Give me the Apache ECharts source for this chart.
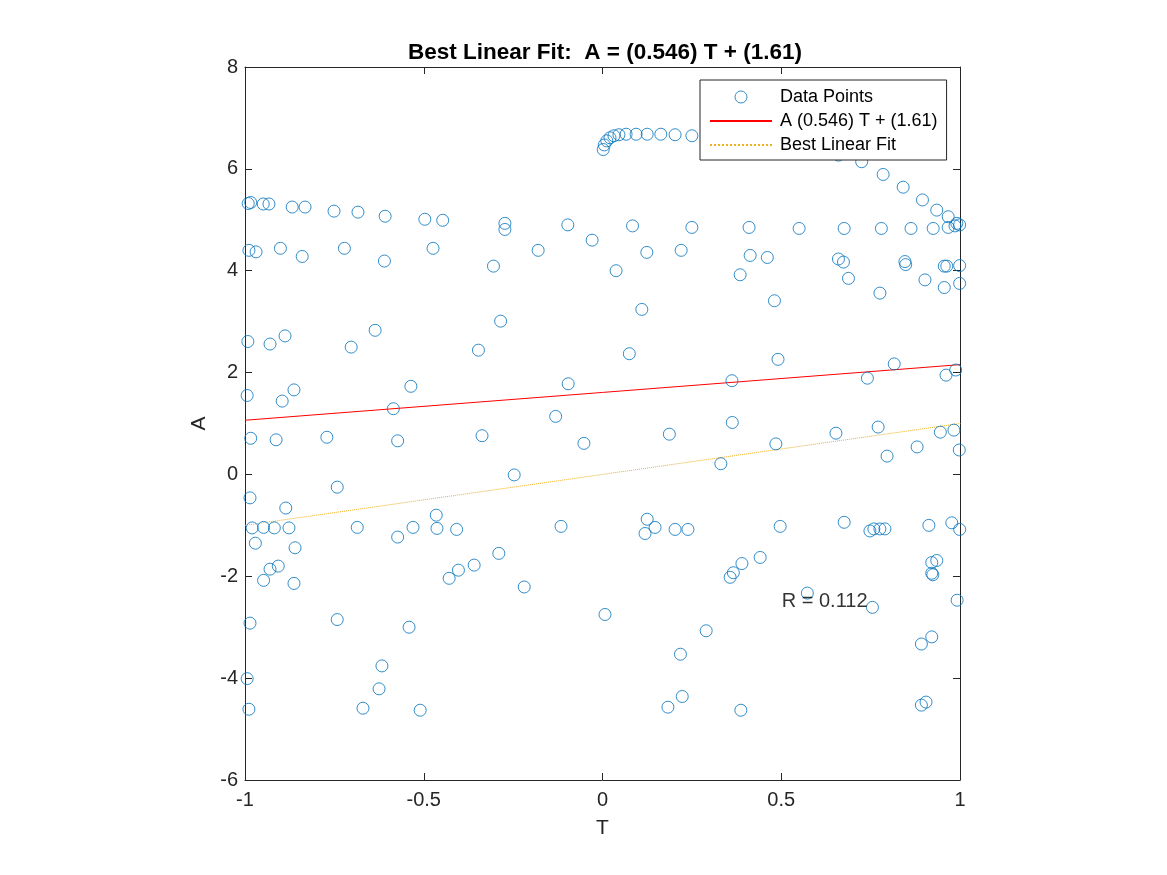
<!DOCTYPE html>
<html>
<head>
<meta charset="utf-8">
<title>Best Linear Fit</title>
<script src="https://cdn.jsdelivr.net/npm/echarts@6/dist/echarts.min.js"></script>
<style>
  html, body { margin: 0; padding: 0; background: #fff; }
  #main { width: 1167px; height: 875px; }
</style>
</head>
<body>
<div id="main"></div>
<script>
// T / A pairs
var pointsT = [
  0.002, 0.005, 0.012, 0.021, 0.032, 0.046, 0.066, 0.094, 0.125, 0.163, 0.203, 0.25,
  0.66, 0.725, 0.785, 0.841, 0.895, 0.935, 0.967, 0.991,
  -0.991, -0.984, -0.949, -0.933, -0.868, -0.832, -0.751, -0.684, -0.608, -0.497, -0.447, -0.273, -0.273, -0.097, -0.029,
  -0.989, -0.969, -0.901, -0.84, -0.722, -0.61, -0.474, -0.305, -0.18,
  0.084, 0.25, 0.41, 0.55, 0.676, 0.78, 0.863, 0.925, 0.967, 0.999, 0.986,
  0.124, 0.22, 0.038, 0.413, 0.461, 0.385, 0.66, 0.674, 0.688, 0.846, 0.848, 0.902, 0.956, 0.963, 0.999, 0.956, 0.999, 0.776, 0.481, 0.11,
  -0.992, -0.93, -0.888, -0.703, -0.636, -0.347, -0.285, -0.994, -0.896, -0.863, -0.536, -0.585, -0.096, -0.131,
  -0.984, -0.913, -0.771, -0.573, -0.337, -0.052, -0.247, -0.986, -0.742, -0.886,
  -0.98, -0.948, -0.918, -0.877, -0.686, -0.53, -0.465, -0.463, -0.408, -0.116, -0.573, -0.971, -0.86,
  0.075, 0.491, 0.816, 0.362, 0.741, 0.961, 0.988, 0.363, 0.187, 0.653, 0.771, 0.945, 0.983, 0.485, 0.88, 0.796, 0.998, 0.331,
  0.125, 0.147, 0.119, 0.203, 0.239, 0.497, 0.676, 0.748, 0.759, 0.776, 0.79, 0.913, 0.977, 0.999,
  -0.948, -0.93, -0.907, -0.863, -0.986, -0.742, -0.541, -0.617, -0.625, -0.994, -0.989, -0.67, -0.51,
  -0.429, -0.403, -0.359, -0.29, -0.219, 0.007,
  0.357, 0.366, 0.39, 0.441, 0.573, 0.755, 0.921, 0.935, 0.921, 0.924, 0.992,
  0.29, 0.218, 0.892, 0.921, 0.183, 0.223, 0.387, 0.892, 0.905
];
var pointsA = [
  6.38, 6.47, 6.55, 6.61, 6.65, 6.67, 6.68, 6.68, 6.68, 6.68, 6.67, 6.65,
  6.27, 6.14, 5.89, 5.64, 5.39, 5.19, 5.06, 4.93,
  5.32, 5.34, 5.31, 5.31, 5.25, 5.25, 5.17, 5.15, 5.07, 5.01, 4.99, 4.93, 4.81, 4.90, 4.60,
  4.40, 4.37, 4.44, 4.28, 4.44, 4.19, 4.44, 4.09, 4.40,
  4.88, 4.85, 4.85, 4.83, 4.83, 4.83, 4.83, 4.83, 4.85, 4.90, 4.88,
  4.36, 4.40, 4.00, 4.30, 4.26, 3.92, 4.23, 4.17, 3.85, 4.18, 4.12, 3.82, 4.09, 4.09, 4.10, 3.67, 3.75, 3.56, 3.41, 3.24,
  2.61, 2.56, 2.72, 2.50, 2.83, 2.44, 3.01, 1.55, 1.44, 1.66, 1.73, 1.29, 1.78, 1.14,
  0.71, 0.68, 0.73, 0.66, 0.76, 0.61, -0.01, -0.46, -0.25, -0.66,
  -1.05, -1.04, -1.05, -1.05, -1.04, -1.04, -0.80, -1.06, -1.08, -1.02, -1.23, -1.35, -1.44,
  2.37, 2.26, 2.17, 1.84, 1.89, 1.95, 2.05, 1.02, 0.79, 0.81, 0.93, 0.83, 0.87, 0.60, 0.54, 0.36, 0.48, 0.21,
  -0.88, -1.04, -1.16, -1.08, -1.08, -1.02, -0.94, -1.11, -1.07, -1.07, -1.07, -1.00, -0.95, -1.08,
  -2.08, -1.86, -1.80, -2.14, -2.92, -2.85, -3.00, -3.76, -4.21, -4.01, -4.61, -4.59, -4.63,
  -2.04, -1.88, -1.78, -1.55, -2.21, -2.75,
  -2.02, -1.93, -1.75, -1.63, -2.33, -2.61, -1.73, -1.69, -1.94, -1.97, -2.47,
  -3.07, -3.53, -3.33, -3.19, -4.57, -4.36, -4.63, -4.53, -4.47
];

// fitted line A = (0.546) T + (1.61), and the dotted A = T line
var fitSlope = 0.546;
var fitIntercept = 1.61;
var lineT = [-1, 1];
var idealA = [-1, 1];

var xTicks = [-1, -0.5, 0, 0.5, 1];
var yTicks = [-6, -4, -2, 0, 2, 4, 6, 8];

var axisColor = '#262626';
var font = '"Liberation Sans", Arial, Helvetica, sans-serif';

var scatterData = pointsT.map(function (t, i) { return [t, pointsA[i]]; });
var fitData = lineT.map(function (t) { return [t, fitSlope * t + fitIntercept]; });
var idealData = lineT.map(function (t, i) { return [t, idealA[i]]; });

var myChart = echarts.init(document.getElementById('main'));

function xAxisDef(pos, showLabel) {
    return {
        type: 'value', position: pos,
        min: xTicks[0], max: xTicks[xTicks.length - 1], interval: 0.5,
        axisLine: { show: true, onZero: false, lineStyle: { color: axisColor, width: 1 } },
        axisTick: { show: true, inside: true, length: 7, lineStyle: { color: axisColor } },
        axisLabel: { show: showLabel, fontSize: 20, color: axisColor, margin: 10, fontFamily: font },
        splitLine: { show: false },
        name: showLabel ? 'T' : '', nameLocation: 'middle', nameGap: 38,
        nameTextStyle: { fontSize: 21, color: axisColor, fontFamily: font }
    };
}
function yAxisDef(pos, showLabel) {
    return {
        type: 'value', position: pos,
        min: yTicks[0], max: yTicks[yTicks.length - 1], interval: 2,
        axisLine: { show: true, onZero: false, lineStyle: { color: axisColor, width: 1 } },
        axisTick: { show: true, inside: true, length: 7, lineStyle: { color: axisColor } },
        axisLabel: { show: showLabel, fontSize: 20, color: axisColor, margin: 7, fontFamily: font },
        splitLine: { show: false },
        name: showLabel ? 'A' : '', nameLocation: 'middle', nameGap: 35,
        nameTextStyle: { fontSize: 21, color: axisColor, fontFamily: font }
    };
}

var option = {
    backgroundColor: '#fff',
    animation: false,
    title: {
        text: 'Best Linear Fit:  A = (0.546) T + (1.61)',
        left: 600, top: 36, textAlign: 'center',
        textStyle: { fontSize: 22.5, fontWeight: 'bold', color: '#000', fontFamily: font }
    },
    grid: { left: 245, right: 207, top: 67, bottom: 95 },
    legend: {
        data: [
            { name: 'Data Points', itemStyle: { borderWidth: 1 } },
            { name: 'A (0.546) T + (1.61)' },
            { name: 'Best Linear Fit' }
        ],
        orient: 'vertical', left: 700, top: 80,
        itemWidth: 62, itemHeight: 12, itemGap: 6,
        padding: [8, 9, 6, 9],
        backgroundColor: '#fff', borderColor: axisColor, borderWidth: 1,
        selectedMode: false,
        textStyle: { fontSize: 18, color: '#000', fontFamily: font, padding: [0, 0, 0, 3] }
    },
    xAxis: [xAxisDef('bottom', true), xAxisDef('top', false)],
    yAxis: [yAxisDef('left', true), yAxisDef('right', false)],
    series: [
        {
            name: 'Data Points', type: 'scatter',
            symbol: 'circle', symbolSize: 12,
            itemStyle: { color: 'rgba(0,0,0,0)', borderColor: '#0072BD', borderWidth: 1 },
            emphasis: { disabled: true },
            data: scatterData, z: 3
        },
        {
            name: 'A (0.546) T + (1.61)', type: 'line',
            symbol: 'none', lineStyle: { color: '#ff0000', width: 1 },
            itemStyle: { color: 'rgba(0,0,0,0)' },
            data: fitData, z: 2
        },
        {
            name: 'Best Linear Fit', type: 'line',
            symbol: 'none', lineStyle: { color: '#EDB120', width: 1, type: 'dotted' },
            itemStyle: { color: 'rgba(0,0,0,0)' },
            data: idealData, z: 2
        },
        {
            name: 'R', type: 'scatter', symbolSize: 1,
            itemStyle: { color: 'rgba(0,0,0,0)' },
            label: {
                show: true, position: 'right', distance: 0,
                formatter: 'R = 0.112', fontSize: 20, color: '#000', fontFamily: font
            },
            data: [[0.5, -2.5]], z: 4
        }
    ]
};

myChart.setOption(option);
</script>
</body>
</html>
